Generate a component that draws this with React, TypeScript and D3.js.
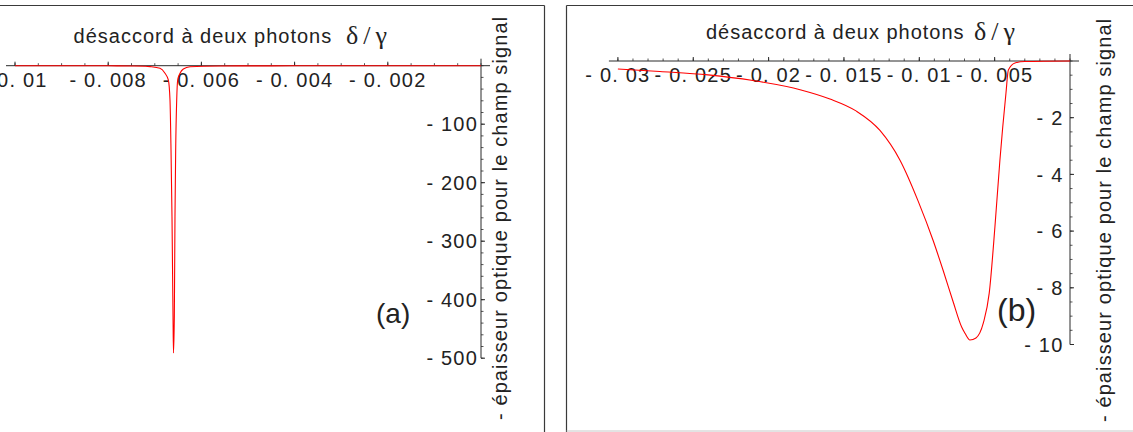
import React from 'react';
import * as d3 from 'd3';

// ---- Data ----
// Panel (a): two-photon detuning (delta/gamma) vs minus optical depth
const leftDetuning = [
  -0.01, -0.009, -0.008, -0.0075, -0.0072, -0.0071, -0.006888, -0.006781, -0.00671,
  -0.006674, -0.006652, -0.006631, -0.006609, -0.006599, -0.006581, -0.006567,
  -0.006552, -0.00653, -0.006509, -0.006459, -0.006388, -0.006245, -0.0056, -0.005,
  -0.004, -0.002, 0,
];
const leftDepth = [
  -0.05, -0.1, -0.2, -0.5, -1.0, -1.6, -4.4, -13, -24.4,
  -58.6, -144, -258, -429, -491, -429, -258,
  -144, -58.6, -24.4, -13, -5.6, -1.7, -0.5, -0.35,
  -0.2, -0.1, 0,
];

// Panel (b)
const rightDetuning = [
  -0.03, -0.02721, -0.02402, -0.02104, -0.01785, -0.01593, -0.0142, -0.01261, -0.01128,
  -0.01007, -0.00907, -0.00841, -0.00775, -0.00719, -0.00697, -0.00664, -0.00624,
  -0.00575, -0.00536, -0.00498, -0.00465, -0.00425, -0.00409, -0.00365, -0.00299, 0,
];
const rightDepth = [
  -0.28, -0.37, -0.49, -0.69, -1.02, -1.34, -1.76, -2.45, -3.5,
  -4.95, -6.35, -7.4, -8.5, -9.38, -9.6, -9.84, -9.77,
  -9.24, -8.19, -5.84, -3.49, -1.14, -0.32, -0.07, -0.02, 0,
];

// Ticks
const leftXTicks = [-0.01, -0.008, -0.006, -0.004, -0.002];
const leftXTickLabels = ['- 0. 01', '- 0. 008', '- 0. 006', '- 0. 004', '- 0. 002'];
const leftYTicks = [-100, -200, -300, -400, -500];
const leftYTickLabels = ['- 100', '- 200', '- 300', '- 400', '- 500'];
const rightXTicks = [-0.03, -0.025, -0.02, -0.015, -0.01, -0.005];
const rightXTickLabels = ['- 0. 03', '- 0. 025', '- 0. 02', '- 0. 015', '- 0. 01', '- 0. 005'];
const rightYTicks = [-2, -4, -6, -8, -10];
const rightYTickLabels = ['- 2', '- 4', '- 6', '- 8', '- 10'];

const xTitle = 'désaccord à deux photons';
const xSymbol = 'δ/γ';
const yTitle = '- épaisseur optique pour le champ signal';
const panelLetters = ['(a)', '(b)'];

const SANS = '"Liberation Sans", Arial, Helvetica, sans-serif';
const SERIF = '"Liberation Serif", "Times New Roman", serif';
const AXIS = '#2b2b2b';
const TEXT = '#222';

type PanelProps = {
  xs: number[];
  ys: number[];
  xDomain: [number, number];
  xRange: [number, number];
  yDomain: [number, number];
  yRange: [number, number];
  xTicks: number[];
  xTickLabels: string[];
  yTicks: number[];
  yTickLabels: string[];
  xMinorStep: number;
  yMinorStep: number;
  yLabelGap: number;
  titleX: number;
  titleY: number;
  symbolX: number;
  yTitleX: number;
  yTitleY: number;
  letter: string;
  letterX: number;
  letterY: number;
  letterSize: number;
};

function Panel(p: PanelProps) {
  const x = d3.scaleLinear().domain(p.xDomain).range(p.xRange);
  const y = d3.scaleLinear().domain(p.yDomain).range(p.yRange);
  const x0 = x(0);
  const y0 = y(0);
  const pts = p.xs.map((v, i) => [v, p.ys[i]] as [number, number]);
  const line = d3
    .line<[number, number]>()
    .x((d) => x(d[0]))
    .y((d) => y(d[1]))
    .curve(d3.curveMonotoneX);

  const xMin = p.xDomain[0];
  const yMin = p.yDomain[1];
  const xMinor = d3.range(0, Math.round(-xMin / p.xMinorStep) + 1).map((k) => -k * p.xMinorStep);
  const yMinor = d3.range(0, Math.round(-yMin / p.yMinorStep) + 1).map((k) => -k * p.yMinorStep);

  return (
    <g>
      {/* x axis */}
      <line x1={x(xMin) - 9} x2={x0 + 9} y1={y0} y2={y0} stroke={AXIS} strokeWidth={1} />
      {xMinor.map((t, i) => (
        <line key={'xm' + i} x1={x(t)} x2={x(t)} y1={y0} y2={y0 - 2.5} stroke={AXIS} strokeWidth={0.8} />
      ))}
      {p.xTicks.map((t, i) => (
        <g key={'xt' + i}>
          <line x1={x(t)} x2={x(t)} y1={y0} y2={y0 - 4} stroke={AXIS} strokeWidth={1} />
          <text
            x={x(t)}
            y={y0 + 21}
            textAnchor="middle"
            fontFamily={SANS}
            fontSize={20}
            letterSpacing={1.2}
            fill={TEXT}
          >
            {p.xTickLabels[i]}
          </text>
        </g>
      ))}
      {/* y axis */}
      <line x1={x0} x2={x0} y1={y0 - 7} y2={y(yMin)} stroke={AXIS} strokeWidth={1} />
      {yMinor.map((t, i) => (
        <line key={'ym' + i} x1={x0} x2={x0 + 2.5} y1={y(t)} y2={y(t)} stroke={AXIS} strokeWidth={0.8} />
      ))}
      {p.yTicks.map((t, i) => (
        <g key={'yt' + i}>
          <line x1={x0} x2={x0 + 4} y1={y(t)} y2={y(t)} stroke={AXIS} strokeWidth={1} />
          <text
            x={x0 - p.yLabelGap}
            y={y(t)}
            dy="0.36em"
            textAnchor="end"
            fontFamily={SANS}
            fontSize={20}
            letterSpacing={1.2}
            fill={TEXT}
          >
            {p.yTickLabels[i]}
          </text>
        </g>
      ))}
      {/* curve */}
      <path d={line(pts) || ''} fill="none" stroke="#ff0000" strokeWidth={1.1} />
      {/* titles */}
      <text x={p.titleX} y={p.titleY} fontFamily={SANS} fontSize={20} letterSpacing={1.0} fill={TEXT}>
        {xTitle}
      </text>
      <text x={p.symbolX} y={p.titleY + 1} fontFamily={SERIF} fontSize={26} letterSpacing={5} fill={TEXT}>
        {xSymbol}
      </text>
      <text
        transform={`translate(${p.yTitleX},${p.yTitleY}) rotate(-90)`}
        fontFamily={SANS}
        fontSize={20}
        letterSpacing={1.1}
        fill={TEXT}
      >
        {yTitle}
      </text>
      <text x={p.letterX} y={p.letterY} fontFamily={SANS} fontSize={p.letterSize} fill={TEXT}>
        {p.letter}
      </text>
    </g>
  );
}

export default function App() {
  return (
    <svg
      width={1133}
      height={432}
      viewBox="0 0 1133 432"
      style={{ position: 'absolute', left: 0, top: 0, background: '#fff' }}
    >
      <rect x={0} y={0} width={1133} height={432} fill="#fff" />
      {/* panel frames */}
      <line x1={0} x2={544.5} y1={5.5} y2={5.5} stroke="#3a3a3a" strokeWidth={1.2} />
      <line x1={544.5} x2={544.5} y1={5.5} y2={432} stroke="#3a3a3a" strokeWidth={1.2} />
      <line x1={566.5} x2={1133} y1={5.5} y2={5.5} stroke="#3a3a3a" strokeWidth={1.2} />
      <line x1={566.5} x2={566.5} y1={5.5} y2={432} stroke="#3a3a3a" strokeWidth={1.2} />
      <line x1={566.5} x2={1133} y1={431} y2={431} stroke="#c8c8c8" strokeWidth={1} />

      <Panel
        xs={leftDetuning}
        ys={leftDepth}
        xDomain={[-0.01, 0]}
        xRange={[15, 481]}
        yDomain={[0, -500]}
        yRange={[65.7, 358.2]}
        xTicks={leftXTicks}
        xTickLabels={leftXTickLabels}
        yTicks={leftYTicks}
        yTickLabels={leftYTickLabels}
        xMinorStep={0.0005}
        yMinorStep={20}
        yLabelGap={3}
        titleX={73.6}
        titleY={43}
        symbolX={346}
        yTitleX={506.5}
        yTitleY={420}
        letter={panelLetters[0]}
        letterX={376}
        letterY={323}
        letterSize={28}
      />
      <Panel
        xs={rightDetuning}
        ys={rightDepth}
        xDomain={[-0.03, 0]}
        xRange={[617.9, 1070]}
        yDomain={[0, -10]}
        yRange={[61, 344.5]}
        xTicks={rightXTicks}
        xTickLabels={rightXTickLabels}
        yTicks={rightYTicks}
        yTickLabels={rightYTickLabels}
        xMinorStep={0.001}
        yMinorStep={0.5}
        yLabelGap={6.5}
        titleX={706}
        titleY={39}
        symbolX={974}
        yTitleX={1111}
        yTitleY={422}
        letter={panelLetters[1]}
        letterX={997}
        letterY={321}
        letterSize={32}
      />
    </svg>
  );
}
